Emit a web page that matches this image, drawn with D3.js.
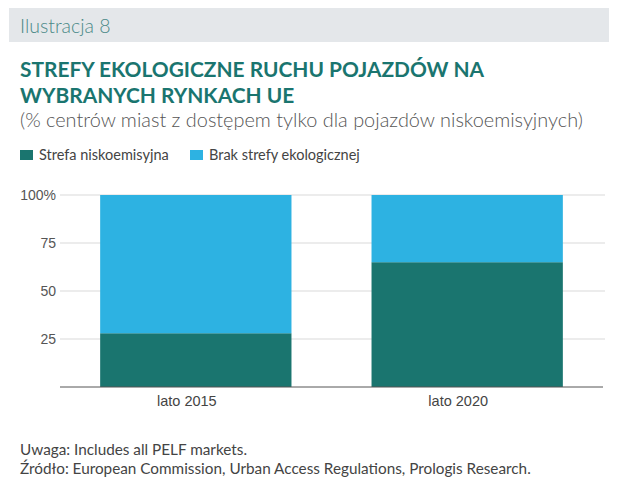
<!DOCTYPE html>
<html>
<head>
<meta charset="utf-8">
<script src="https://cdn.jsdelivr.net/npm/d3@7"></script>
<style>
  body { margin: 0; background: #fff; }
  svg { font-family: "Source Sans Pro", Lato, "Open Sans", sans-serif; }
</style>
</head>
<body>
<div id="chart"></div>
<script>
// data
var categories = ["lato 2015", "lato 2020"];
var seriesNames = ["Strefa niskoemisyjna", "Brak strefy ekologicznej"];
var lowEmission = [28, 65];
var noZone = [72, 35];
var yTicks = [25, 50, 75, 100];

var colors = ["#1a756f", "#2db2e2"];

var W = 620, H = 490;
var margin = {top: 195, right: 15, bottom: 103, left: 60};

var svg = d3.select("#chart").append("svg")
    .attr("width", W)
    .attr("height", H);

// header band
svg.append("rect")
    .attr("x", 9).attr("y", 8)
    .attr("width", 600).attr("height", 34)
    .attr("fill", "#e4e7ea");
svg.append("text")
    .attr("x", 20).attr("y", 33)
    .attr("fill", "#4a8987")
    .style("font-size", "19.5px")
    .style("font-weight", 300)
    .text("Ilustracja 8");

// title
var title = svg.append("text")
    .attr("fill", "#1a756f")
    .style("font-size", "20.9px")
    .style("font-weight", 700);
title.append("tspan").attr("x", 20).attr("y", 77).text("STREFY EKOLOGICZNE RUCHU POJAZDÓW NA");
title.append("tspan").attr("x", 20).attr("y", 103).text("WYBRANYCH RYNKACH UE");

svg.append("text")
    .attr("x", 20).attr("y", 127)
    .attr("fill", "#555")
    .style("font-size", "19.9px")
    .style("font-weight", 300)
    .text("(% centrów miast z dostępem tylko dla pojazdów niskoemisyjnych)");

// legend
var legendX = [20, 190];
var legend = svg.selectAll(".legend")
    .data(seriesNames)
  .enter().append("g")
    .attr("class", "legend")
    .attr("transform", function(d, i) { return "translate(" + legendX[i] + ",150)"; });
legend.append("rect")
    .attr("width", 13).attr("height", 10)
    .attr("fill", function(d, i) { return colors[i]; });
legend.append("text")
    .attr("x", 19).attr("y", 10)
    .attr("fill", "#444")
    .style("font-size", "14.5px")
    .text(function(d) { return d; });

// chart
var g = svg.append("g")
    .attr("transform", "translate(" + margin.left + "," + margin.top + ")");
var width = W - margin.left - margin.right,
    height = H - margin.top - margin.bottom;

var x = d3.scaleBand()
    .domain(categories)
    .range([0, 543])
    .paddingInner(0.295)
    .paddingOuter(0.148);

var y = d3.scaleLinear()
    .domain([0, 100])
    .range([height, 0]);

// grid
g.selectAll(".grid")
    .data(yTicks)
  .enter().append("line")
    .attr("x1", 0).attr("x2", width)
    .attr("y1", function(d) { return y(d); })
    .attr("y2", function(d) { return y(d); })
    .attr("stroke", "#d9d9d9")
    .attr("stroke-width", 1);

var stackData = categories.map(function(c, i) {
  return {cat: c, low: lowEmission[i], none: noZone[i]};
});
var stack = d3.stack().keys(["low", "none"])(stackData);

g.selectAll(".series")
    .data(stack)
  .enter().append("g")
    .attr("fill", function(d, i) { return colors[i]; })
  .selectAll("rect")
    .data(function(d) { return d; })
  .enter().append("rect")
    .attr("x", function(d) { return x(d.data.cat); })
    .attr("width", x.bandwidth())
    .attr("y", function(d) { return y(d[1]); })
    .attr("height", function(d) { return y(d[0]) - y(d[1]); });

// y axis labels
var yAxis = g.append("g")
    .call(d3.axisLeft(y).tickValues(yTicks).tickSize(0).tickPadding(4)
      .tickFormat(function(d) { return d === 100 ? "100%" : d; }));
yAxis.select(".domain").remove();
yAxis.selectAll("text")
    .attr("fill", "#555")
    .style("font-size", "14px")
    .style("font-family", null);

// x axis
var xAxis = g.append("g")
    .attr("transform", "translate(0," + height + ")")
    .call(d3.axisBottom(x).tickSize(0).tickPadding(9));
xAxis.select(".domain")
    .attr("stroke", "#555")
    .attr("d", "M0,0H543");
xAxis.selectAll("text")
    .attr("fill", "#444")
    .attr("dx", -9)
    .style("font-size", "14.5px")
    .style("font-family", null);

// footer
svg.append("text")
    .attr("x", 20).attr("y", 455)
    .attr("fill", "#444")
    .style("font-size", "15.3px")
    .text("Uwaga: Includes all PELF markets.");
svg.append("text")
    .attr("x", 20).attr("y", 474)
    .attr("fill", "#444")
    .style("font-size", "15.3px")
    .text("Źródło: European Commission, Urban Access Regulations, Prologis Research.");
</script>
</body>
</html>
